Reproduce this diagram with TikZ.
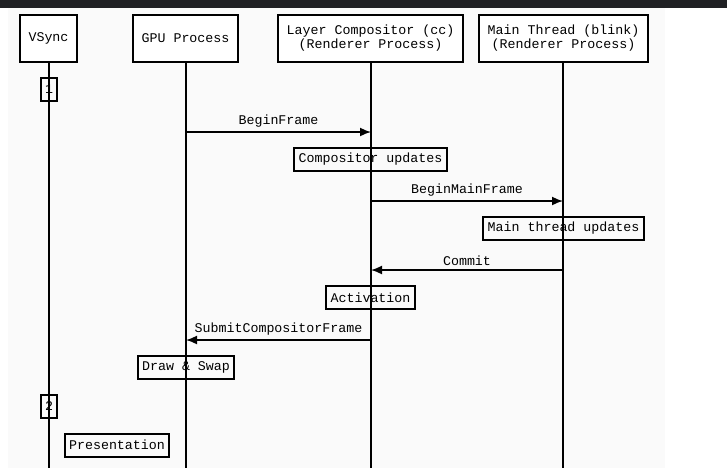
\documentclass[tikz,border=0pt]{standalone}
\usepackage{fontspec}
\setmainfont{Liberation Mono}
\usetikzlibrary{arrows.meta}
\definecolor{topbar}{HTML}{202124}
\definecolor{panel}{HTML}{FAFAFA}
\tikzset{
  hdr/.style={draw=black, line width=2pt, fill=white, align=center, inner sep=0pt,
    font=\fontsize{13.3}{14}\selectfont},
  act/.style={draw=black, line width=2pt, inner xsep=4.3pt, inner ysep=0pt,
    minimum height=23pt, font=\fontsize{13.3}{14}\selectfont},
  life/.style={line width=2pt},
  msg/.style={line width=1.6pt, -{Latex[length=11pt,width=9pt]}},
  lbl/.style={font=\fontsize{13.3}{14}\selectfont, inner sep=0pt}
}
\begin{document}
\begin{tikzpicture}[x=1pt,y=-1pt]
\useasboundingbox (0,0) rectangle (727,472);
\fill[white] (0,0) rectangle (727,472);
\fill[topbar] (0,0) rectangle (727,7.5);
\fill[panel] (8,8) rectangle (664.5,468);

% headers
\node[hdr, minimum width=57pt, minimum height=47pt] (vs) at (48.5,38.5) {VSync};
\node[hdr, minimum width=105pt, minimum height=47pt] (gpu) at (185.5,38.5) {GPU Process};
\node[hdr, minimum width=185pt, minimum height=47pt] (cc) at (370.5,38.5) {Layer Compositor (cc)\\(Renderer Process)};
\node[hdr, minimum width=169pt, minimum height=47pt] (mt) at (563.5,38.5) {Main Thread (blink)\\(Renderer Process)};

% activation boxes
\node[act] (one) at (49,89) {1};
\node[act] (two) at (49,406) {2};
\node[act] (pres) at (117,445) {Presentation};
\node[act] (cu) at (370.5,159) {Compositor updates};
\node[act] (mtu) at (563.5,228.5) {Main thread updates};
\node[act] (actv) at (370.5,297.5) {Activation};
\node[act] (ds) at (186,367.5) {Draw \& Swap};

% lifeline ends
\coordinate (vsE) at (49,468);
\coordinate (gpuE) at (186,468);
\coordinate (ccE) at (371,468);
\coordinate (mtE) at (563,468);
\draw[life] (vs.south -| vsE) -- (vsE);
\draw[life] (gpu.south -| gpuE) -- (gpuE);
\draw[life] (cc.south -| ccE) -- (ccE);
\draw[life] (mt.south -| mtE) -- (mtE);

% messages
\coordinate (bfA) at (186,132);
\coordinate (bfB) at (371,132);
\coordinate (bmA) at (371,201);
\coordinate (bmB) at (563,201);
\coordinate (cmA) at (563,270);
\coordinate (cmB) at (371,270);
\coordinate (scA) at (371,340);
\coordinate (scB) at (186,340);
\draw[msg] (bfA) -- node[lbl, above=4pt] (bfL) {BeginFrame} (bfB);
\draw[msg] (bmA) -- node[lbl, above=4pt] (bmL) {BeginMainFrame} (bmB);
\draw[msg] (cmA) -- node[lbl, above=4pt] (cmL) {Commit} (cmB);
\draw[msg] (scA) -- node[lbl, above=4pt] (scL) {SubmitCompositorFrame} (scB);
\end{tikzpicture}
\end{document}
